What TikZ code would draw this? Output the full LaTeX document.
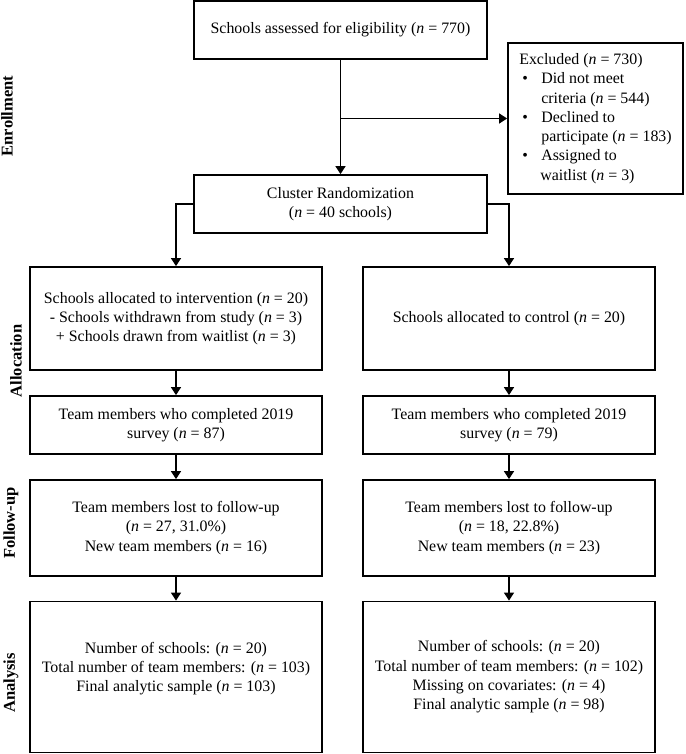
\documentclass[tikz,border=0pt]{standalone}
\usepackage{fontspec}
\setmainfont{Liberation Serif}
\usetikzlibrary{arrows.meta}
\newcommand\dfont{\fontsize{15.9}{19.3}\selectfont}
\newcommand\nn{\textit{n}}
\begin{document}
\begin{tikzpicture}[x=1pt,y=-1pt,
  box/.style={draw, line width=1.8pt, rectangle, align=center, inner sep=2pt, font=\dfont},
  wbox/.style={box, minimum width=292pt},
  arr/.style={line width=1.4pt, -{Triangle[width=10pt,length=8pt]}},
  stage/.style={rotate=90, font=\fontsize{16.5}{19}\selectfont\bfseries, inner sep=0pt}]
\useasboundingbox (0,0) rectangle (685,754);
% top
\node[box, minimum width=293pt, minimum height=58pt] (top) at (340.5,30) {Schools assessed for eligibility (\nn{} = 770)};
\node[box, minimum width=293pt, minimum height=58pt] (clu) at (340.5,204) {Cluster Randomization\\(\nn{} = 40 schools)};
\node[box, minimum width=175pt, minimum height=151pt, align=left] (excl) at (595.5,118.5) {Excluded (\nn{} = 730)\\
\hspace*{3pt}\makebox[19pt][l]{\textbullet}Did not meet\\
\hspace*{22pt}criteria (\nn{} = 544)\\
\hspace*{3pt}\makebox[19pt][l]{\textbullet}Declined to\\
\hspace*{22pt}participate (\nn{} = 183)\\
\hspace*{3pt}\makebox[19pt][l]{\textbullet}Assigned to\\
\hspace*{21pt}waitlist (\nn{} = 3)};
% left column
\node[wbox, minimum height=103pt] (aL) at (176,318.5) {Schools allocated to intervention (\nn{} = 20)\\- Schools withdrawn from study (\nn{} = 3)\\+ Schools drawn from waitlist (\nn{} = 3)};
\node[wbox, minimum height=58pt] (tL) at (176,425) {Team members who completed 2019\\survey (\nn{} = 87)};
\node[wbox, minimum height=96pt] (fL) at (176,528) {Team members lost to follow-up\\(\nn{} = 27, 31.0\%)\\New team members (\nn{} = 16)};
\node[wbox, minimum height=151pt, text depth=20pt] (nL) at (176,677) {Number of schools: (\nn{} = 20)\\Total number of team members: (\nn{} = 103)\\Final analytic sample (\nn{} = 103)};
% right column
\node[wbox, minimum height=103pt] (aR) at (509,318.5) {Schools allocated to control (\nn{} = 20)};
\node[wbox, minimum height=58pt] (tR) at (509,425) {Team members who completed 2019\\survey (\nn{} = 79)};
\node[wbox, minimum height=96pt] (fR) at (509,528) {Team members lost to follow-up\\(\nn{} = 18, 22.8\%)\\New team members (\nn{} = 23)};
\node[wbox, minimum height=151pt] (nR) at (509,677) {Number of schools: (\nn{} = 20)\\Total number of team members: (\nn{} = 102)\\Missing on covariates: (\nn{} = 4)\\Final analytic sample (\nn{} = 98)};
% stage labels
\node[stage] (s1) at (7,116) {Enrollment};
\node[stage] (s2) at (16,361) {Allocation};
\node[stage] (s3) at (11,523) {Follow-up};
\node[stage] (s4) at (11,683) {Analysis};
% connectors
\draw[arr] (top.south) -- (clu.north);
\coordinate (br) at (top.south |- excl.west);
\draw[arr] (br) -- (excl.west);
\draw[arr] (clu.west) -| (aL.north);
\draw[arr] (clu.east) -| (aR.north);
\draw[arr] (aL) -- (tL);
\draw[arr] (tL) -- (fL);
\draw[arr] (fL) -- (nL);
\draw[arr] (aR) -- (tR);
\draw[arr] (tR) -- (fR);
\draw[arr] (fR) -- (nR);
\end{tikzpicture}
\end{document}
